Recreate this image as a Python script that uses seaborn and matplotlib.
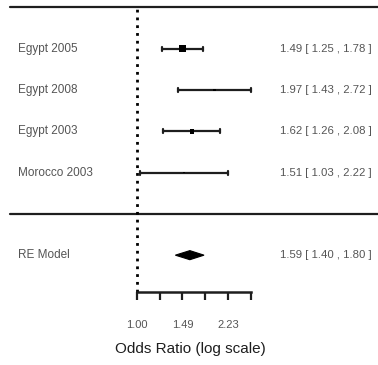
import matplotlib
matplotlib.use("Agg")
import matplotlib.pyplot as plt
import matplotlib.transforms as mtransforms
import seaborn as sns
import numpy as np
import pandas as pd

sns.set_theme(style="white")
plt.rcParams['font.family'] = ['Liberation Sans', 'DejaVu Sans']

# data
studies = ["Egypt 2005", "Egypt 2008", "Egypt 2003", "Morocco 2003"]
odds_ratio = [1.49, 1.97, 1.62, 1.51]
ci_low = [1.25, 1.43, 1.26, 1.03]
ci_high = [1.78, 2.72, 2.08, 2.22]
re_label = "RE Model"
re_est, re_low, re_high = 1.59, 1.40, 1.80
tick_values = [1.00, 1.22, 1.49, 1.82, 2.23, 2.72]
tick_labels = ["1.00", "", "1.49", "", "2.23", ""]
xlabel = "Odds Ratio (log scale)"

k = len(studies)
rows = np.arange(k, 0, -1)
df = pd.DataFrame({"study": studies, "or": odds_ratio, "lb": ci_low,
                   "ub": ci_high, "row": rows})
# inverse variance weights from CI width
se = (np.log(df["ub"]) - np.log(df["lb"])) / (2 * 1.96)
df["w"] = 1 / se ** 2

fig = plt.figure(figsize=(3.78, 3.65), dpi=100)
ax = fig.add_axes([0, 0, 1, 1])
ax.set_xscale("log")
ax.set_xlim(np.exp(-1.2018), np.exp(2.114))
ax.set_ylim(-3.66, 5.18)

ink = "#1e1e1e"
grey = "#555555"

# CI lines with end caps
for _, r in df.iterrows():
    ax.plot([r["lb"], r["ub"]], [r["row"], r["row"]], color=ink, lw=1.6,
            solid_capstyle="butt", zorder=3)
    for xe in (r["lb"], r["ub"]):
        ax.plot([xe, xe], [r["row"] - 0.05, r["row"] + 0.05], color=ink,
                lw=1.6, zorder=3)

sns.scatterplot(data=df, x="or", y="row", size="w", sizes=(1.2, 28),
                marker="s", color="black", edgecolor="black", linewidth=0,
                legend=False, ax=ax, zorder=4)

# summary diamond
re_row = -1
h = 0.11
ax.fill([re_low, re_est, re_high, re_est],
        [re_row, re_row + h, re_row, re_row - h], color="black", lw=0.8,
        ec="black", zorder=4)

# separators
ax.axhline(k + 1, xmin=10 / 378, xmax=1, color=ink, lw=1.6)
ax.axhline(0, xmin=10 / 378, xmax=1, color=ink, lw=1.6)

axis_row = -1.89
ax.plot([1, 1], [axis_row, k + 1], color="black", lw=2.0, ls=(0, (1, 1.8)),
        zorder=2)

# labels
trans = mtransforms.blended_transform_factory(ax.transAxes, ax.transData)
fs = 8.5
for _, r in df.iterrows():
    ax.text(18 / 378, r["row"], r["study"], transform=trans, ha="left",
            va="center", fontsize=fs, color=grey)
    ax.text(372 / 378, r["row"],
            f"{r['or']:.2f} [ {r['lb']:.2f} , {r['ub']:.2f} ]",
            transform=trans, ha="right", va="center", fontsize=8.2, color=grey)
ax.text(18 / 378, re_row, re_label, transform=trans, ha="left", va="center",
        fontsize=fs, color=grey)
ax.text(372 / 378, re_row, f"{re_est:.2f} [ {re_low:.2f} , {re_high:.2f} ]",
        transform=trans, ha="right", va="center", fontsize=8.2, color=grey)

# bottom axis
for s in ["top", "left", "right"]:
    ax.spines[s].set_visible(False)
ax.spines["bottom"].set_position(("data", axis_row))
ax.spines["bottom"].set_bounds(tick_values[0], tick_values[-1])
ax.spines["bottom"].set_linewidth(1.8)
ax.spines["bottom"].set_color(ink)
ax.xaxis.set_minor_locator(matplotlib.ticker.NullLocator())
ax.set_xticks(tick_values)
ax.set_xticklabels(tick_labels)
ax.tick_params(axis="x", direction="out", length=6, width=1.6, color=ink,
               pad=14, labelsize=8, labelcolor=grey, bottom=True)
ax.set_yticks([])
ax.set_xlabel(xlabel, fontsize=11, color=ink)
ax.xaxis.set_label_coords(190 / 378, 0.062)
ax.set_ylabel("")

fig.savefig("out.png", dpi=100)
